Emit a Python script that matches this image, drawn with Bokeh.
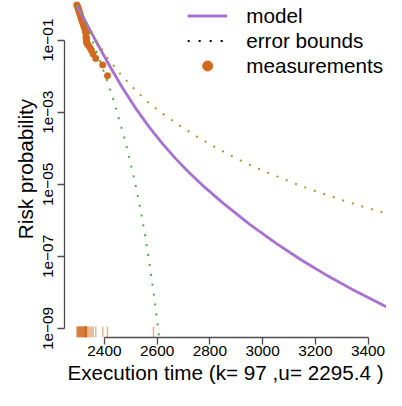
from bokeh.plotting import figure
from bokeh.models import Range1d, FixedTicker, Legend, LegendItem
from bokeh.embed import file_html
from bokeh.resources import INLINE

NAN = float("nan")

# ---- data ----
meas_time = [2295.4, 2297.9, 2300.1, 2301.9, 2303.7, 2305.5, 2307.3, 2309.1, 2310.9,
             2312.7, 2314.5, 2316.3, 2318.1, 2319.9, 2321.7, 2323.5, 2325.3, 2326.6,
             2327.6, 2328.3, 2328.9, 2329.5, 2330.2, 2330.9, 2331.6, 2332.3,
             2333.0, 2339.0, 2345.0, 2351.0, 2357.0, 2367.0, 2393.5, 2411.5]
meas_prob = [0.94, 0.86, 0.78, 0.70, 0.64, 0.58, 0.53, 0.48, 0.44,
             0.40, 0.367, 0.334, 0.305, 0.278, 0.253, 0.231, 0.217, 0.204,
             0.191, 0.180, 0.169, 0.159, 0.124, 0.113, 0.103, 0.093,
             0.082, 0.072, 0.062, 0.052, 0.041, 0.031, 0.0206, 0.0103]
rug_extra = [2586.0]

model_time = [2295.4, 2320, 2370, 2420, 2470, 2520, 2570, 2620, 2670, 2720, 2780,
              2850, 2950, 3050, 3150, 3250, 3350, 3460, 3470]
model_prob = [0.912, 0.4178, 0.0877, 0.01919, 4.571e-3, 1.239e-3, 3.846e-4,
              1.343e-4, 5.164e-5, 2.163e-5, 8.337e-6, 2.999e-6, 7.834e-7,
              2.328e-7, 7.709e-8, 2.799e-8, 1.107e-8, 4.335e-9, 3.98e-9]

upper_time = [2295.4, 2330, 2369.3, 2412.6, 2462, 2513.6, 2570.3, 2631.6, 2696.5,
              2761.5, 2828.6, 2897.1, 2967.1, 3037.8, 3110, 3182.1, 3254.3, 3327.9,
              3402.2, 3458.8, 3470]
upper_prob = [0.933, 0.316, 0.0977, 0.0313, 0.0111, 4.40e-3, 1.74e-3, 7.93e-4,
              3.78e-4, 1.87e-4, 9.91e-5, 5.35e-5, 3.06e-5, 1.87e-5, 1.14e-5,
              7.19e-6, 4.79e-6, 3.16e-6, 2.14e-6, 1.65e-6, 1.57e-6]

lower_time = [2295.4, 2329.7, 2357.4, 2384.8, 2411.5, 2435.4, 2457.0, 2478.6, 2496.7,
              2514.7, 2530.6, 2545.0, 2558.0, 2570.3, 2581.1, 2591.9, 2601.3, 2608.0]
lower_prob = [0.95, 0.301, 0.0873, 0.0244, 7.08e-3, 2.06e-3, 5.82e-4, 1.63e-4,
              4.52e-5, 1.23e-5, 3.37e-6, 9.33e-7, 2.50e-7, 6.82e-8, 1.86e-8,
              4.98e-9, 1.36e-9, 5.0e-10]

x_ticks = [2400, 2600, 2800, 3000, 3200, 3400]
y_ticks = [1e-9, 1e-7, 1e-5, 1e-3, 1e-1]
y_tick_labels = ["1e\u221209", "1e\u221207", "1e\u221205", "1e\u221203", "1e\u221201"]

x_label = "Execution time (k= 97 ,u= 2295.4 )"
y_label = "Risk probability"
legend_labels = ["model", "error bounds", "measurements"]

# ---- styling ----
FONT = "Liberation Sans"
C_MODEL = "#a870d2"
C_UP = "#9c9c2e"
C_LO = "#4daa4d"
C_PT = "#d2691e"

y_lo, y_hi = 10 ** -9.25, 10 ** 0.1
p = figure(width=386, height=390, x_range=Range1d(2248.5, 3470.0),
           y_range=Range1d(y_lo, y_hi), y_axis_type="log",
           output_backend="svg", toolbar_location=None,
           min_border_left=64, min_border_right=0, min_border_top=0,
           min_border_bottom=53)
p.outline_line_color = None
p.grid.visible = False
p.background_fill_color = "white"

# rug
rug = meas_time + rug_extra
p.segment(x0=rug, x1=rug, y0=[y_lo] * len(rug), y1=[10 ** -8.945] * len(rug),
          line_color=C_PT, line_alpha=0.5, line_width=1.5)

# measurements
p.scatter(meas_time, meas_prob, size=6.5, fill_color=C_PT, line_color=C_PT,
          line_width=0.5)

# model
p.line(model_time, model_prob, line_color=C_MODEL, line_width=2.8)

# error bounds
p.line(upper_time, upper_prob, line_color=C_UP, line_width=2, line_dash="2 8")
p.line(lower_time, lower_prob, line_color=C_LO, line_width=2, line_dash="2 8")

# legend-only renderers (one NaN point so nothing shows in the plot)
r_model = p.line([NAN], [NAN], line_color=C_MODEL, line_width=2.8)
r_err = p.line([NAN], [NAN], line_color="black", line_width=2, line_dash="2 9")
r_pt = p.scatter([NAN], [NAN], size=9, fill_color=C_PT, line_color=C_PT)

legend = Legend(items=[LegendItem(label=legend_labels[0], renderers=[r_model]),
                       LegendItem(label=legend_labels[1], renderers=[r_err]),
                       LegendItem(label=legend_labels[2], renderers=[r_pt])],
                location="top_right", padding=0, margin=3, spacing=0,
                glyph_width=40, glyph_height=25, label_height=25,
                label_standoff=19, border_line_color=None,
                background_fill_alpha=0, label_text_font=FONT,
                label_text_font_size="20.7px", label_text_color="black")
p.add_layout(legend, "center")

# axes
for ax in (p.xaxis[0], p.yaxis[0]):
    ax.axis_line_color = "#4d4d4d"
    ax.axis_line_width = 1.3
    ax.major_tick_line_color = "#4d4d4d"
    ax.major_tick_line_width = 1.3
    ax.major_tick_out = 7
    ax.major_tick_in = 0
    ax.minor_tick_line_color = None
    ax.major_label_text_font = FONT
    ax.major_label_text_font_size = "15.4px"
    ax.major_label_text_color = "black"
    ax.axis_label_text_font = FONT
    ax.axis_label_text_font_size = "20.7px"
    ax.axis_label_text_font_style = "normal"
    ax.axis_label_text_color = "black"

p.xaxis.ticker = FixedTicker(ticks=x_ticks)
p.xaxis.bounds = (x_ticks[0], x_ticks[-1])
p.xaxis.major_label_standoff = 1
p.xaxis.axis_label = x_label
p.xaxis.axis_label_standoff = 2

p.yaxis.ticker = FixedTicker(ticks=y_ticks)
p.yaxis.bounds = (y_ticks[0], y_ticks[-1])
p.yaxis.major_label_overrides = {t: l for t, l in zip(y_ticks, y_tick_labels)}
p.yaxis.major_label_orientation = "vertical"
p.yaxis.major_label_standoff = 4
p.yaxis.axis_label = y_label
p.yaxis.axis_label_standoff = 4

open("out.html", "w").write(file_html(p, INLINE))
